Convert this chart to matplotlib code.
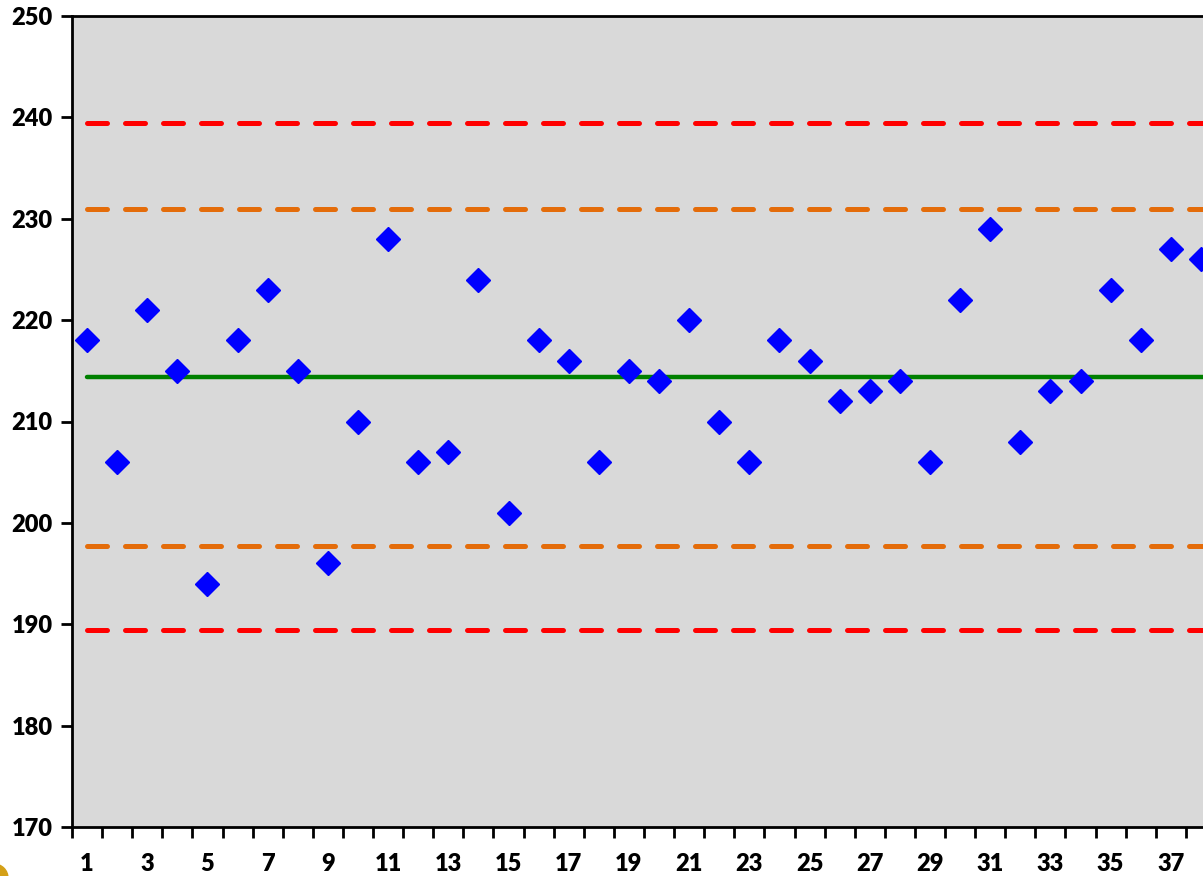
import matplotlib.pyplot as plt
from matplotlib.patches import Circle

# 관측값 (샘플 번호 1~38)
samples = list(range(1, 39))
values = [218, 206, 221, 215, 194, 218, 223, 215, 196, 210,
          228, 206, 207, 224, 201, 218, 216, 206, 215, 214,
          220, 210, 206, 218, 216, 212, 213, 214, 206, 222,
          229, 208, 213, 214, 223, 218, 227, 226]

# 관리 한계선
center = 214.4
ucl, lcl = 239.4, 189.4   # 3 sigma
uwl, lwl = 231.0, 197.7   # 2 sigma

plt.rcParams['font.family'] = ['Lato', 'DejaVu Sans']
plt.rcParams['font.weight'] = 'heavy'

fig = plt.figure(figsize=(12.03, 8.76), dpi=100)
ax = fig.add_axes([72 / 1203, 1 - 827 / 876, (1216 - 72) / 1203, (827 - 16) / 876])
ax.set_facecolor('#D9D9D9')

x0, x1 = samples[0], samples[-1] + 1
ax.plot([x0, x1], [ucl, ucl], color='#FF0000', lw=3.6, dashes=(4, 3.6), dash_capstyle='round', zorder=2)
ax.plot([x0, x1], [lcl, lcl], color='#FF0000', lw=3.6, dashes=(4, 3.6), dash_capstyle='round', zorder=2)
ax.plot([x0, x1], [uwl, uwl], color='#E46C0A', lw=3.6, dashes=(4, 3.6), dash_capstyle='round', zorder=2)
ax.plot([x0, x1], [lwl, lwl], color='#E46C0A', lw=3.6, dashes=(4, 3.6), dash_capstyle='round', zorder=2)
ax.plot([x0, x1], [center, center], color='#008000', lw=3.2, solid_capstyle='round', zorder=2)

ax.plot(samples, values, ls='none', marker='D', ms=12, color='#0000FF', mec='#0000FF', zorder=3)

ax.set_xlim(0.5, 38.5)
ax.set_ylim(170, 250)

# x축: 경계 눈금(major) + 홀수 라벨(minor)
ax.set_xticks([i + 0.5 for i in range(0, 39)])
ax.set_xticklabels([])
ax.set_xticks(samples[::2], minor=True)
ax.set_xticklabels([str(s) for s in samples[::2]], minor=True)
ax.tick_params(axis='x', which='major', length=8, width=2, direction='out')
ax.tick_params(axis='x', which='minor', length=0, pad=19, labelsize=17)

ax.set_yticks(range(170, 251, 10))
ax.tick_params(axis='y', length=8, width=2, direction='out', pad=6, labelsize=17)

for s in ['left', 'bottom', 'top']:
    ax.spines[s].set_linewidth(2)
    ax.spines[s].set_color('black')
ax.spines['right'].set_visible(False)

# 왼쪽 아래 노란 원 조각
fig.patches.append(Circle((-6, -2), 14, transform=None, color='#D4A017'))

fig.savefig('out.png', dpi=100)
